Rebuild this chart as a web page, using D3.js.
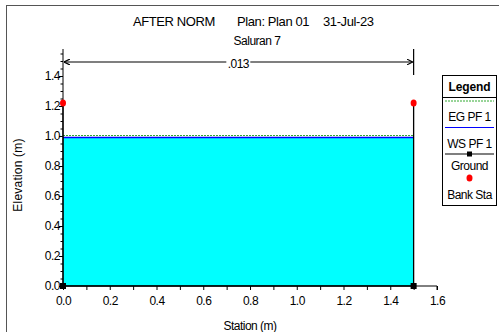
<!DOCTYPE html>
<html>
<head>
<meta charset="utf-8">
<script src="https://cdn.jsdelivr.net/npm/d3@7"></script>
<style>
  body { margin: 0; background: #fff; }
  svg { display: block; font-family: "Liberation Sans", Arial, sans-serif; }
</style>
</head>
<body>
<svg id="chart" width="499" height="332"></svg>
<script>
// cross section data
var groundSta = [0, 0, 1.5, 1.5];
var groundElev = [1.22, 0, 0, 1.22];
var bankSta = [0, 1.5];
var bankElev = [1.22, 1.22];
var wsElev = 0.99;
var egElev = 1.0;
var nValues = [".013"];
var nBounds = [0, 1.5];
var xTicks = [0, 0.2, 0.4, 0.6, 0.8, 1.0, 1.2, 1.4, 1.6];
var yTicks = [0, 0.2, 0.4, 0.6, 0.8, 1.0, 1.2, 1.4];
var titleParts = ["AFTER NORM", "Plan: Plan 01", "31-Jul-23"];

(function () {
    'use strict';

    var svg = d3.select("#chart");

    var x = d3.scaleLinear().domain([0, 1.6]).range([63, 437]);
    var y = d3.scaleLinear().domain([0, 1.4]).range([286, 76]);

    // outer frame (right and bottom edges fall outside the window)
    svg.append("rect")
        .attr("x", 6.5).attr("y", 5.5)
        .attr("width", 500).attr("height", 340)
        .attr("fill", "none").attr("stroke", "#555").attr("stroke-width", 1);

    // titles
    var titleX = [133, 237, 323];
    svg.selectAll("text.title")
        .data(titleParts)
        .enter().append("text")
        .attr("class", "title")
        .attr("x", function (d, i) { return titleX[i]; })
        .attr("y", 26)
        .attr("font-size", 13).attr("letter-spacing", -0.4)
        .text(function (d) { return d; });
    svg.append("text")
        .attr("x", 257).attr("y", 45)
        .attr("text-anchor", "middle")
        .attr("font-size", 12).attr("letter-spacing", -0.5)
        .text("Saluran 7");

    // water fill
    svg.append("rect")
        .attr("x", x(0)).attr("y", y(wsElev))
        .attr("width", x(1.5) - x(0)).attr("height", y(0) - y(wsElev))
        .attr("fill", "#00ffff");

    // EG and WS lines
    svg.append("line")
        .attr("x1", x(0)).attr("x2", x(1.5))
        .attr("y1", y(egElev) - 0.5).attr("y2", y(egElev) - 0.5)
        .attr("stroke", "#33aa33").attr("stroke-width", 1)
        .attr("stroke-dasharray", "2,1");
    svg.append("line")
        .attr("x1", x(0)).attr("x2", x(1.5))
        .attr("y1", y(wsElev)).attr("y2", y(wsElev))
        .attr("stroke", "#0000ff").attr("stroke-width", 1.5);

    // ground
    var ground = groundSta.map(function (s, i) { return [s, groundElev[i]]; });
    svg.append("path")
        .attr("d", d3.line().x(function (d) { return x(d[0]); }).y(function (d) { return y(d[1]); })(ground))
        .attr("fill", "none").attr("stroke", "#000").attr("stroke-width", 1.3);
    svg.selectAll("rect.gpt")
        .data(ground.filter(function (d) { return d[1] === 0; }))
        .enter().append("rect")
        .attr("class", "gpt")
        .attr("x", function (d) { return x(d[0]) - 3; })
        .attr("y", function (d) { return y(d[1]) - 3; })
        .attr("width", 6).attr("height", 6)
        .attr("fill", "#000");

    // axes
    var xAxis = d3.axisBottom(x)
        .tickValues(d3.range(0, 1.61, 0.1))
        .tickSize(4)
        .tickFormat(function (d) {
            var r = Math.round(d * 10);
            return r % 2 === 0 && xTicks.indexOf(r / 10) >= 0 ? d3.format(".1f")(d) : "";
        });
    var gx = svg.append("g").attr("transform", "translate(0," + y(0) + ")").call(xAxis);
    gx.select(".domain").attr("d", "M" + x(0) + ",0H" + x(1.6) + "V4");
    gx.selectAll("text")
        .attr("font-size", 12).attr("letter-spacing", -0.5)
        .attr("font-family", "Liberation Sans, Arial").attr("fill", "#000")
        .attr("y", 19).attr("dy", 0);

    var yAxis = d3.axisLeft(y)
        .tickValues(d3.range(0, 1.56, 0.05))
        .tickSize(3)
        .tickFormat(function (d) {
            var r = Math.round(d * 20);
            return (r % 4 === 0 && yTicks.indexOf(Math.round(d * 10) / 10) >= 0) ? d3.format(".1f")(d) : "";
        });
    var gy = svg.append("g").attr("transform", "translate(" + x(0) + ",0)").call(yAxis);
    gy.select(".domain").attr("d", "M0," + y(0) + "V49");
    gy.selectAll("text")
        .attr("font-size", 12).attr("letter-spacing", -0.5)
        .attr("font-family", "Liberation Sans, Arial").attr("fill", "#000").attr("x", -3);
    gy.selectAll(".tick line").attr("x2", function (d) {
        return Math.round(d * 20) % 4 === 0 ? -4 : -2.5;
    });

    svg.append("text")
        .attr("transform", "translate(22,175) rotate(-90)")
        .attr("text-anchor", "middle")
        .attr("font-size", 12).attr("letter-spacing", 0.2)
        .text("Elevation (m)");
    svg.append("text")
        .attr("x", 250).attr("y", 330)
        .attr("text-anchor", "middle")
        .attr("font-size", 12).attr("letter-spacing", -0.5)
        .text("Station (m)");

    // Manning's n bracket
    var by = 62;
    svg.append("line")
        .attr("x1", x(nBounds[1])).attr("x2", x(nBounds[1]))
        .attr("y1", 49).attr("y2", 75)
        .attr("stroke", "#000").attr("stroke-width", 1.2);
    svg.append("defs").append("marker")
        .attr("id", "arr").attr("viewBox", "0 0 10 10")
        .attr("refX", 10).attr("refY", 5)
        .attr("markerWidth", 5).attr("markerHeight", 5)
        .attr("orient", "auto-start-reverse")
        .append("path").attr("d", "M0,0L10,5L0,10").attr("fill", "none").attr("stroke", "#000").attr("stroke-width", 2);
    var midX = (x(nBounds[0]) + x(nBounds[1])) / 2;
    svg.append("line")
        .attr("x1", x(nBounds[0]) + 1).attr("x2", midX - 12)
        .attr("y1", by).attr("y2", by)
        .attr("stroke", "#000").attr("stroke-width", 1.2)
        .attr("marker-start", "url(#arr)");
    svg.append("line")
        .attr("x1", midX + 12).attr("x2", x(nBounds[1]) - 1)
        .attr("y1", by).attr("y2", by)
        .attr("stroke", "#000").attr("stroke-width", 1.2)
        .attr("marker-end", "url(#arr)");
    svg.append("text")
        .attr("x", midX).attr("y", by + 6)
        .attr("text-anchor", "middle")
        .attr("font-size", 12).attr("letter-spacing", -0.5)
        .text(nValues[0]);

    // bank stations
    svg.selectAll("ellipse.bank")
        .data(bankSta)
        .enter().append("ellipse")
        .attr("class", "bank")
        .attr("cx", function (d) { return x(d); })
        .attr("cy", function (d, i) { return y(bankElev[i]); })
        .attr("rx", 3).attr("ry", 3.6)
        .attr("fill", "#ff0000");

    // legend
    var lx = 442, lw = 54;
    var lg = svg.append("g");
    lg.append("rect")
        .attr("x", lx + 0.5).attr("y", 75.5)
        .attr("width", lw).attr("height", 130)
        .attr("fill", "#fff").attr("stroke", "#000").attr("stroke-width", 1);
    lg.append("line")
        .attr("x1", lx).attr("x2", lx + lw)
        .attr("y1", 97.5).attr("y2", 97.5)
        .attr("stroke", "#000");
    lg.append("text")
        .attr("x", lx + lw / 2 + 0.5).attr("y", 91)
        .attr("text-anchor", "middle")
        .attr("font-size", 12).attr("font-weight", "bold").attr("letter-spacing", -0.1)
        .text("Legend");
    var items = ["EG PF 1", "WS PF 1", "Ground", "Bank Sta"];
    var textY = [121, 148, 170, 199];
    lg.selectAll("text.item")
        .data(items)
        .enter().append("text")
        .attr("class", "item")
        .attr("x", lx + lw / 2 + 0.5)
        .attr("y", function (d, i) { return textY[i]; })
        .attr("text-anchor", "middle")
        .attr("font-size", 12).attr("letter-spacing", -0.5)
        .text(function (d) { return d; });
    lg.append("line")
        .attr("x1", lx + 3).attr("x2", lx + lw - 2)
        .attr("y1", 101).attr("y2", 101)
        .attr("stroke", "#33aa33").attr("stroke-dasharray", "2,1");
    lg.append("line")
        .attr("x1", lx + 3).attr("x2", lx + lw - 2)
        .attr("y1", 127.5).attr("y2", 127.5)
        .attr("stroke", "#0000ff").attr("stroke-width", 1.2);
    lg.append("line")
        .attr("x1", lx + 3).attr("x2", lx + lw - 2)
        .attr("y1", 154).attr("y2", 154)
        .attr("stroke", "#000").attr("stroke-width", 1.2);
    lg.append("rect")
        .attr("x", lx + lw / 2 - 2).attr("y", 151.5)
        .attr("width", 5).attr("height", 5).attr("fill", "#000");
    lg.append("ellipse")
        .attr("cx", lx + lw / 2 + 0.5).attr("cy", 178)
        .attr("rx", 3).attr("ry", 3.5)
        .attr("fill", "#ff0000");
})();
</script>
</body>
</html>
